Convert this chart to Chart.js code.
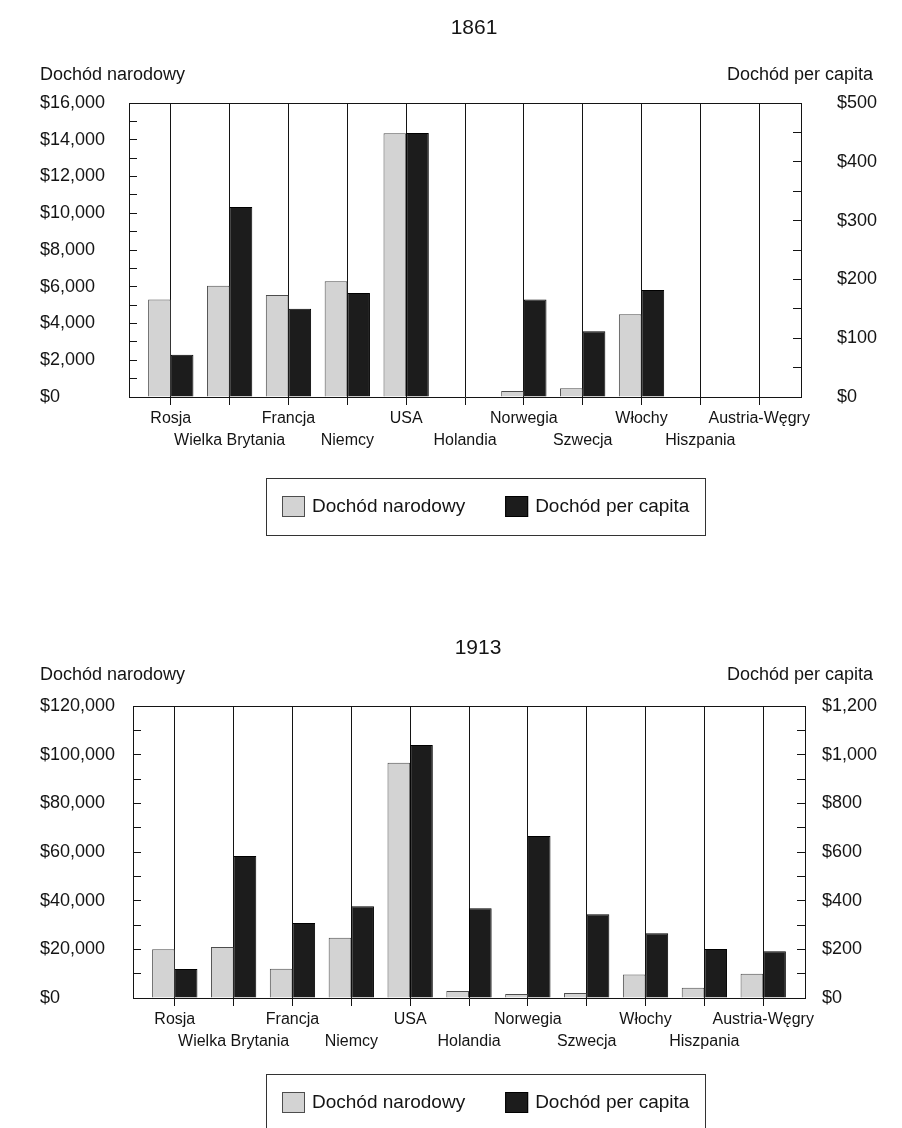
<!DOCTYPE html>
<html>
<head>
<meta charset="utf-8">
<script src="https://cdn.jsdelivr.net/npm/chart.js@4.4.0/dist/chart.umd.min.js"></script>
<style>
  body { margin: 0; background: #fff; }
  .wrap { position: relative; width: 902px; height: 1128px; overflow: hidden; }
  #c1861 { position: absolute; left: 0; top: 0; }
  #c1913 { position: absolute; left: 0; top: 560px; }
</style>
</head>
<body>
<div class="wrap">
  <canvas id="c1861" width="902" height="560"></canvas>
  <canvas id="c1913" width="902" height="568"></canvas>
</div>
<script>
const categories = ['Rosja', 'Wielka Brytania', 'Francja', 'Niemcy', 'USA', 'Holandia',
  'Norwegia', 'Szwecja', 'Włochy', 'Hiszpania', 'Austria-Węgry'];
const seriesNames = ['Dochód narodowy', 'Dochód per capita'];

// 1861
const national1861 = [5300, 6050, 5550, 6300, 14350, 0, 330, 470, 4500, 0, 0];
const perCapita1861 = [72, 323, 150, 177, 449, 0, 166, 112, 182, 0, 0];
const leftTicks1861 = [0, 16000, 1000, 2000];   // min, max, step, labelled every
const rightTicks1861 = [0, 500, 50, 100];

// 1913
const national1913 = [20000, 21000, 12000, 24800, 96700, 2900, 1600, 2100, 9700, 4200, 10000];
const perCapita1913 = [119, 584, 308, 377, 1040, 369, 666, 344, 266, 201, 192];
const leftTicks1913 = [0, 120000, 10000, 20000];
const rightTicks1913 = [0, 1200, 100, 200];

const INK = '#141414';
const FAMILY = "'Liberation Sans', Arial, sans-serif";

// frame top line, title, axis titles and the boxed legend
const frameAndText = {
  id: 'frameAndText',
  afterDraw(chart, args, o) {
    const { ctx, chartArea: a } = chart;
    ctx.save();
    ctx.strokeStyle = INK;
    ctx.lineWidth = 1;
    ctx.beginPath();
    ctx.moveTo(a.left, Math.round(a.top) + 0.5);
    ctx.lineTo(a.right, Math.round(a.top) + 0.5);
    ctx.stroke();

    ctx.fillStyle = INK;
    ctx.textBaseline = 'middle';
    ctx.font = '21px ' + FAMILY;
    ctx.textAlign = 'center';
    ctx.fillText(o.title, (a.left + a.right) / 2 + 9, o.titleY);

    ctx.font = '18px ' + FAMILY;
    ctx.textAlign = 'left';
    ctx.fillText(seriesNames[0], 40, o.axisTitleY);
    ctx.textAlign = 'right';
    ctx.fillText(seriesNames[1], 873, o.axisTitleY);

    // legend
    ctx.font = '19px ' + FAMILY;
    const items = chart.data.datasets.map(d => ({
      label: d.label, fill: d.backgroundColor, stroke: d.borderColor,
      w: ctx.measureText(d.label).width
    }));
    const sw = 23, sh = 21, gap = 7, pad = 16, between = 40, h = 57;
    const total = pad * 2 + items.reduce((s, it) => s + sw + gap + it.w, 0) + between * (items.length - 1);
    let x = Math.round(o.legendCx - total / 2);
    const top = o.legendTop, cy = top + h / 2;
    ctx.strokeStyle = '#333';
    ctx.strokeRect(x + 0.5, top + 0.5, Math.round(total), h);
    x += pad;
    items.forEach(it => {
      ctx.fillStyle = it.fill;
      ctx.fillRect(x, Math.round(cy - sh / 2), sw, sh);
      ctx.strokeStyle = it.stroke;
      ctx.strokeRect(x + 0.5, Math.round(cy - sh / 2) + 0.5, sw - 1, sh - 1);
      x += sw + gap;
      ctx.fillStyle = INK;
      ctx.textAlign = 'left';
      ctx.fillText(it.label, x, cy);
      x += it.w + between;
    });
    ctx.restore();
  }
};

function money(v) {
  return '$' + v.toLocaleString('en-US');
}

function yAxis(position, t, width, pad) {
  return {
    position: position,
    min: t[0], max: t[1],
    grid: { drawOnChartArea: false, drawTicks: true, tickLength: -8, color: INK },
    border: { color: INK },
    ticks: {
      stepSize: t[2], autoSkip: false, color: INK, padding: pad,
      crossAlign: position === 'left' ? 'far' : 'near',
      font: { family: FAMILY, size: 18 },
      callback: v => (v % t[3] === 0 ? money(v) : '')
    },
    afterFit(s) { s.width = width; }
  };
}

function makeChart(id, title, national, perCapita, leftT, rightT, box) {
  return new Chart(document.getElementById(id), {
    type: 'bar',
    data: {
      labels: categories.map((c, i) => (i % 2 ? ['', c] : [c, ''])),
      datasets: [
        { label: seriesNames[0], data: national, yAxisID: 'y',
          backgroundColor: '#d3d3d3', borderColor: '#4d4d4d', borderWidth: 1 },
        { label: seriesNames[1], data: perCapita, yAxisID: 'y1',
          backgroundColor: '#1c1c1c', borderColor: '#000', borderWidth: 1 }
      ]
    },
    options: {
      responsive: false,
      animation: false,
      layout: { padding: { top: box.top, left: 40, right: 0, bottom: box.height - box.bottom - 60 } },
      datasets: { bar: { categoryPercentage: 0.77, barPercentage: 1 } },
      plugins: {
        legend: { display: false },
        tooltip: { enabled: false },
        frameAndText: { title: title, titleY: box.titleY, axisTitleY: box.axisTitleY,
          legendTop: box.legendTop, legendCx: 486 }
      },
      scales: {
        x: {
          grid: { offset: false, color: INK, lineWidth: 1, drawTicks: true, tickLength: 8 },
          border: { color: INK },
          ticks: { autoSkip: false, maxRotation: 0, color: INK, padding: 3,
            font: { family: FAMILY, size: 16, lineHeight: '22px' } },
          afterBuildTicks(s) {
            s._startValue = -0.71;
            s._valueRange = categories.length - 1 + 1.42;
          },
          afterFit(s) { s.height = 60; }
        },
        y: yAxis('left', leftT, box.leftW, 0),
        y1: yAxis('right', rightT, box.rightW, box.rightPad)
      }
    },
    plugins: [frameAndText]
  });
}

makeChart('c1861', '1861', national1861, perCapita1861, leftTicks1861, rightTicks1861,
  { height: 560, top: 103, bottom: 397, leftW: 89, rightW: 101, rightPad: 44,
    titleY: 28, axisTitleY: 75, legendTop: 478 });

makeChart('c1913', '1913', national1913, perCapita1913, leftTicks1913, rightTicks1913,
  { height: 568, top: 146, bottom: 438, leftW: 93, rightW: 97, rightPad: 25,
    titleY: 88, axisTitleY: 115, legendTop: 514 });
</script>
</body>
</html>
